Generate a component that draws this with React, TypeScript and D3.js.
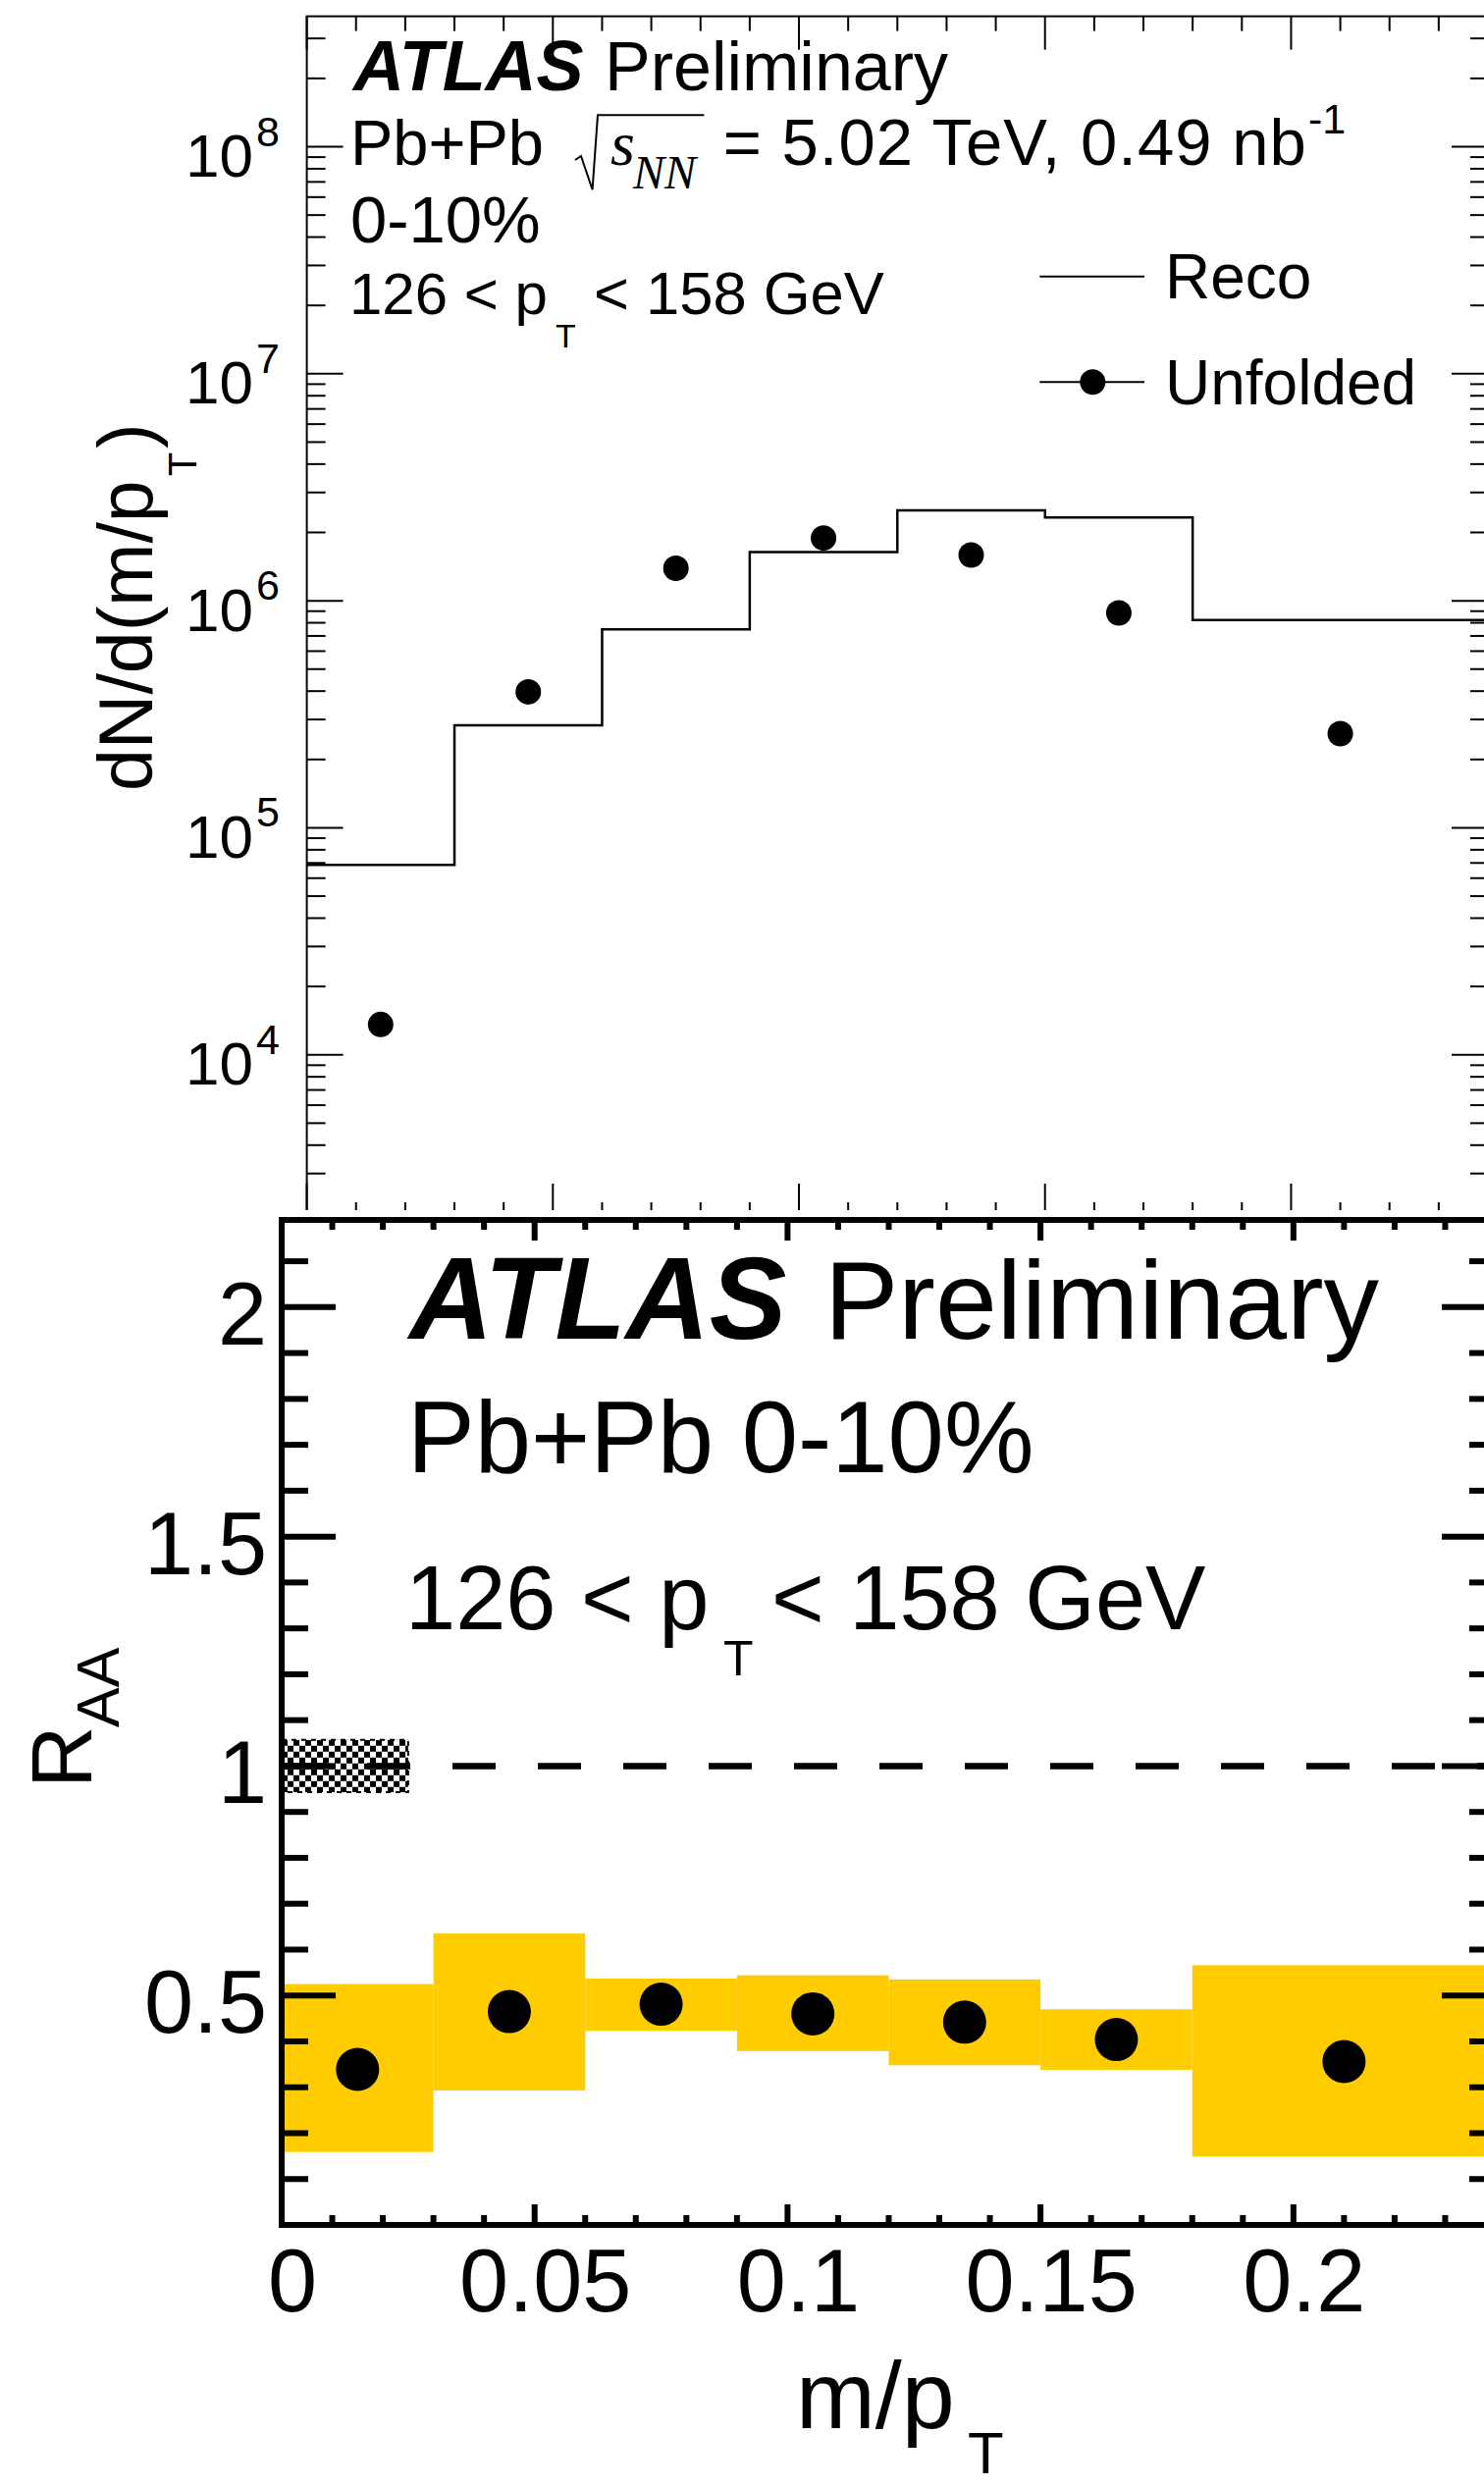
import React from 'react';
import * as d3 from 'd3';

// m/pT binning shared by both panels
const binEdges = [0, 0.03, 0.06, 0.09, 0.12, 0.15, 0.18, 0.24];
const binCenters = [0.015, 0.045, 0.075, 0.105, 0.135, 0.165, 0.21];

// Upper panel: dN/d(m/pT)
const recoYield = [6.86e4, 2.83e5, 7.48e5, 1.64e6, 2.5e6, 2.33e6, 8.22e5];
const unfoldedYield = [1.36e4, 3.97e5, 1.39e6, 1.89e6, 1.59e6, 8.84e5, 2.6e5];

// Lower panel: R_AA with systematic band
const raaValue = [0.339, 0.465, 0.481, 0.46, 0.442, 0.404, 0.356];
const raaSystLow = [0.159, 0.293, 0.423, 0.379, 0.348, 0.338, 0.149];
const raaSystHigh = [0.525, 0.635, 0.537, 0.544, 0.535, 0.47, 0.566];

// Normalisation uncertainty box at unity
const normBand = [0.943, 1.057];
const normBandWidth = 0.025;

// Axis tick labels
const upperDecades = [4, 5, 6, 7, 8];
const raaTickLabels = [0.5, 1, 1.5, 2];
const xTickLabels = [0, 0.05, 0.1, 0.15, 0.2];

const SANS = '"Liberation Sans", Arial, Helvetica, sans-serif';
const SERIF = '"Liberation Serif", "Times New Roman", serif';

export default function App() {
  const W = 1512;
  const H = 2534;

  // Upper panel geometry
  const xU = d3.scaleLinear().domain([0, 0.24]).range([312.6, 1516]);
  const yU = d3.scaleLog().domain([1930, 3.755e8]).range([1240, 16.6]);
  // Lower panel geometry
  const xL = d3.scaleLinear().domain([0, 0.24]).range([287, 1524]);
  const yL = d3.scaleLinear().domain([0, 2.19]).range([2267, 1243]);

  const xTicks = d3.range(0, 25).map((i) => ({ v: i / 100, major: i % 5 === 0 }));

  const uMinor: number[] = [];
  for (let d = 3; d <= 8; d++) {
    for (let m = 2; m <= 9; m++) {
      const v = m * Math.pow(10, d);
      if (v >= 1930 && v <= 3.755e8) uMinor.push(v);
    }
  }

  const recoPts: [number, number][] = binEdges
    .slice(0, -1)
    .map((e, i) => [e, recoYield[i]] as [number, number]);
  recoPts.push([binEdges[binEdges.length - 1], recoYield[recoYield.length - 1]]);
  const recoPath = d3
    .line<[number, number]>()
    .x((d) => xU(d[0]))
    .y((d) => yU(d[1]))
    .curve(d3.curveStepAfter)(recoPts) as string;

  const raaMinor = d3.range(1, 22).map((i) => i / 10);

  const uX0 = xU(0);
  const uX1 = xU(0.24);
  const uY0 = yU(3.755e8);
  const uY1 = 1240;

  const lX0 = xL(0);
  const lX1 = xL(0.24);
  const lY0 = yL(2.19);
  const lY1 = yL(0);

  return (
    <svg
      width={W}
      height={H}
      viewBox={`0 0 ${W} ${H}`}
      style={{ position: 'absolute', left: 0, top: 0, background: '#fff' }}
      fontFamily={SANS}
    >
      <defs>
        <clipPath id="upperClip">
          <rect x={0} y={0} width={W} height={1233} />
        </clipPath>
        <pattern
          id="checker"
          width={12}
          height={12}
          patternUnits="userSpaceOnUse"
          x={xL(0)}
          y={yL(normBand[1])}
        >
          <rect x={0} y={0} width={6} height={6} fill="#000" />
          <rect x={6} y={6} width={6} height={6} fill="#000" />
        </pattern>
      </defs>
      <rect x={0} y={0} width={W} height={H} fill="#fff" />

      {/* ================= Upper panel ================= */}
      <g clipPath="url(#upperClip)">
        {/* reco histogram */}
        <path d={recoPath} fill="none" stroke="#000" strokeWidth={2.5} />
        {/* unfolded points */}
        {binCenters.map((c, i) => (
          <circle key={i} cx={xU(c)} cy={yU(unfoldedYield[i])} r={13} fill="#000" />
        ))}

        {/* frame */}
        <rect x={uX0} y={uY0} width={uX1 - uX0} height={uY1 - uY0} fill="none" stroke="#000" strokeWidth={2} />
        {/* x ticks top and bottom */}
        {xTicks.map((t, i) => (
          <g key={i}>
            <line x1={xU(t.v)} x2={xU(t.v)} y1={uY0} y2={uY0 + (t.major ? 34 : 15)} stroke="#000" strokeWidth={2} />
            <line x1={xU(t.v)} x2={xU(t.v)} y1={uY1} y2={uY1 - (t.major ? 34 : 15)} stroke="#000" strokeWidth={2} />
          </g>
        ))}
        {/* y ticks left and right */}
        {upperDecades.map((d) => (
          <g key={d}>
            <line x1={uX0} x2={uX0 + 37} y1={yU(Math.pow(10, d))} y2={yU(Math.pow(10, d))} stroke="#000" strokeWidth={2} />
            <line x1={uX1} x2={uX1 - 37} y1={yU(Math.pow(10, d))} y2={yU(Math.pow(10, d))} stroke="#000" strokeWidth={2} />
            <text x={258} y={yU(Math.pow(10, d)) + 30.5} fontSize={62} textAnchor="end">10</text>
            <text x={261} y={yU(Math.pow(10, d)) - 1} fontSize={43}>{d}</text>
          </g>
        ))}
        {uMinor.map((v, i) => (
          <g key={i}>
            <line x1={uX0} x2={uX0 + 19} y1={yU(v)} y2={yU(v)} stroke="#000" strokeWidth={2} />
            <line x1={uX1} x2={uX1 - 18} y1={yU(v)} y2={yU(v)} stroke="#000" strokeWidth={2} />
          </g>
        ))}

        {/* y axis title */}
        <g transform="translate(155, 806) rotate(-90)">
          <text x={0} y={0} fontSize={77}>
            dN/d(m/p
            <tspan dx={4} dy={45} fontSize={40}>T</tspan>
            <tspan dx={4} dy={-45} fontSize={77}>)</tspan>
          </text>
        </g>

        {/* labels */}
        <text x={360} y={91.7} fontSize={72} fontWeight="bold" fontStyle="italic">ATLAS</text>
        <text x={616} y={91.7} fontSize={70}>Preliminary</text>

        <text x={357} y={168.3} fontSize={65}>Pb+Pb</text>
        <path
          d="M 586 163 L 592 159 L 603.6 193.3 L 609 117.3 L 717.4 117.3"
          fill="none"
          stroke="#000"
          strokeWidth={2}
        />
        <text x={622} y={168.3} fontSize={64} fontFamily={SERIF} fontStyle="italic">s</text>
        <text x={645} y={191.7} fontSize={48} fontFamily={SERIF} fontStyle="italic">NN</text>
        <text x={736.7} y={168.3} fontSize={67} textLength={594} lengthAdjust="spacing">
          = 5.02 TeV, 0.49 nb
        </text>
        <text x={1333} y={136.4} fontSize={43}>-1</text>

        <text x={357} y={246.7} fontSize={67}>0-10%</text>

        <text x={356} y={320} fontSize={60}>126 &lt; p</text>
        <text x={566} y={354} fontSize={34}>T</text>
        <text x={605} y={320} fontSize={61.5}>&lt; 158 GeV</text>

        {/* legend */}
        <line x1={1059.3} x2={1166} y1={281.7} y2={281.7} stroke="#000" strokeWidth={2} />
        <text x={1187} y={304.3} fontSize={64}>Reco</text>
        <line x1={1059.3} x2={1166} y1={389.3} y2={389.3} stroke="#000" strokeWidth={2} />
        <circle cx={1113.3} cy={389.3} r={13} fill="#000" />
        <text x={1187} y={411.7} fontSize={64}>Unfolded</text>
      </g>

      {/* ================= Lower panel ================= */}
      {/* systematic band */}
      {binCenters.map((c, i) => (
        <rect
          key={i}
          x={xL(binEdges[i])}
          width={xL(binEdges[i + 1]) - xL(binEdges[i])}
          y={yL(raaSystHigh[i])}
          height={yL(raaSystLow[i]) - yL(raaSystHigh[i])}
          fill="#FFCC00"
        />
      ))}

      {/* normalisation uncertainty */}
      <rect
        x={xL(0)}
        y={yL(normBand[1])}
        width={xL(normBandWidth) - xL(0)}
        height={yL(normBand[0]) - yL(normBand[1])}
        fill="url(#checker)"
        stroke="#000"
        strokeWidth={2}
        strokeDasharray="5 5"
      />

      {/* unity line */}
      <line
        x1={lX0}
        x2={lX1}
        y1={yL(1)}
        y2={yL(1)}
        stroke="#000"
        strokeWidth={6.5}
        strokeDasharray="44 43"
      />

      {/* R_AA points */}
      {binCenters.map((c, i) => (
        <circle key={i} cx={xL(c)} cy={yL(raaValue[i])} r={22} fill="#000" />
      ))}

      {/* frame */}
      <rect x={lX0} y={lY0} width={lX1 - lX0} height={lY1 - lY0} fill="none" stroke="#000" strokeWidth={6} />
      {xTicks.map((t, i) => (
        <g key={i}>
          <line x1={xL(t.v)} x2={xL(t.v)} y1={lY0} y2={lY0 + (t.major ? 21 : 10)} stroke="#000" strokeWidth={6} />
          <line x1={xL(t.v)} x2={xL(t.v)} y1={lY1} y2={lY1 - (t.major ? 21 : 10)} stroke="#000" strokeWidth={6} />
        </g>
      ))}
      {raaMinor.map((v, i) => {
        const major = Math.abs(v * 2 - Math.round(v * 2)) < 1e-6;
        const len = major ? 55 : 27;
        return (
          <g key={i}>
            <line x1={lX0} x2={lX0 + len} y1={yL(v)} y2={yL(v)} stroke="#000" strokeWidth={6} />
            <line x1={lX1} x2={lX1 - len} y1={yL(v)} y2={yL(v)} stroke="#000" strokeWidth={6} />
          </g>
        );
      })}

      {/* tick labels */}
      {raaTickLabels.map((v) => (
        <text key={v} x={272} y={yL(v) + 38} fontSize={90} textAnchor="end">
          {String(v)}
        </text>
      ))}
      {xTickLabels.map((v) => (
        <text key={v} x={xL(v) + 11} y={2355} fontSize={90} textAnchor="middle">
          {String(v)}
        </text>
      ))}

      {/* axis titles */}
      <text x={811} y={2474} fontSize={97}>m/p</text>
      <text x={986} y={2520} fontSize={60}>T</text>
      <g transform="translate(93, 1822) rotate(-90)">
        <text x={0} y={0} fontSize={88}>R</text>
        <text x={62} y={28} fontSize={61}>AA</text>
      </g>

      {/* labels */}
      <text x={417} y={1363.8} fontSize={118} fontWeight="bold" fontStyle="italic">ATLAS</text>
      <text x={840} y={1363.8} fontSize={113}>Preliminary</text>
      <text x={415} y={1500.4} fontSize={103}>Pb+Pb 0-10%</text>
      <text x={413} y={1659.7} fontSize={92}>126 &lt; p</text>
      <text x={737} y={1706.6} fontSize={50}>T</text>
      <text x={786} y={1659.7} fontSize={92}>&lt; 158 GeV</text>
    </svg>
  );
}
